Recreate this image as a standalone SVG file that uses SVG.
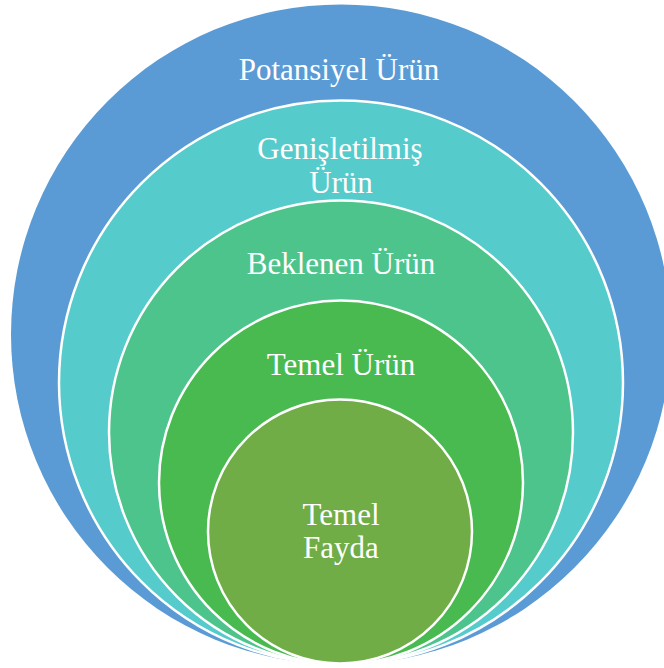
<svg xmlns="http://www.w3.org/2000/svg" width="664" height="668" viewBox="0 0 664 668">
<style>
.ring{stroke:#ffffff;stroke-width:2.5}
.lbl{font-family:"Liberation Serif","Times New Roman",serif;font-size:31px;fill:#ffffff;text-anchor:middle}
</style>
<rect width="664" height="668" fill="#ffffff"/>
<g id="potansiyel">
<circle cx="341" cy="334.5" r="330" fill="#5B9BD5"/>
<text class="lbl" x="339" y="80">Potansiyel Ürün</text>
</g>
<g id="genisletilmis">
<circle class="ring" cx="341" cy="382.5" r="282" fill="#55CBCB"/>
<text class="lbl" x="340" y="159">Genişletilmiş</text>
<text class="lbl" x="341" y="193">Ürün</text>
</g>
<g id="beklenen">
<circle class="ring" cx="341" cy="432.5" r="232" fill="#4EC48D"/>
<text class="lbl" x="341" y="274">Beklenen Ürün</text>
</g>
<g id="temel-urun">
<circle class="ring" cx="341" cy="482.5" r="182" fill="#48BA4F"/>
<text class="lbl" x="341" y="375">Temel Ürün</text>
</g>
<g id="temel-fayda">
<circle class="ring" cx="340" cy="531.5" r="132" fill="#70AD47"/>
<text class="lbl" x="341" y="525">Temel</text>
<text class="lbl" x="341" y="558">Fayda</text>
</g>
<g id="connectors"/>
</svg>
